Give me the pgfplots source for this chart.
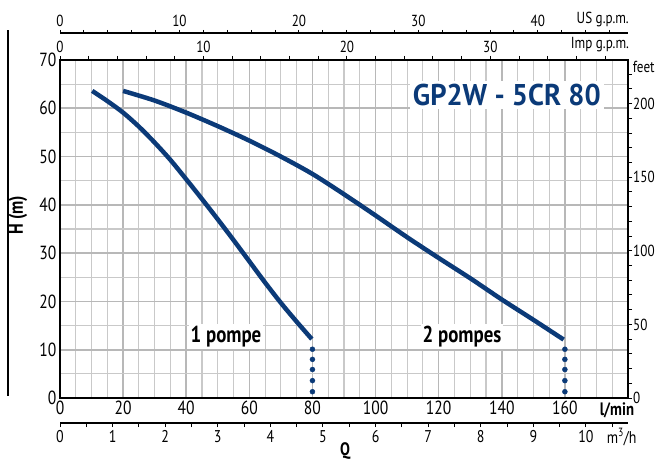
\documentclass[border=0pt]{standalone}
\usepackage{pgfplots}
\pgfplotsset{compat=1.18}
\usepackage{fontspec}
\setmainfont[FakeStretch=0.82]{PT Sans}
\newfontfamily\titlefont[FakeStretch=0.95]{PT Sans}
\definecolor{navy}{HTML}{0B3A78}
\definecolor{gmaj}{HTML}{B8B8B8}
\definecolor{gmin}{HTML}{C9C9C9}
\begin{document}
\begin{tikzpicture}
\useasboundingbox (0pt,0pt) rectangle (656pt,459pt);
\pgfplotsset{every axis/.append style={scale only axis, /pgf/number format/assume math mode=true}}
% main axis
\begin{axis}[at={(60pt,61pt)}, anchor=south west, width=568pt, height=338pt,
  xmin=0, xmax=180, ymin=0, ymax=70,
  xtick={0,20,...,160}, minor xtick={5,10,...,175},
  ytick={0,10,...,70}, minor ytick={5,15,...,65},
  grid=both, major grid style={gmaj,line width=1.6pt}, minor grid style={gmin,line width=1.2pt},
  major tick length=0pt, minor tick length=0pt,
  axis line style={line width=2pt},
  ticklabel style={font=\fontsize{19}{19}\selectfont},
  xticklabel style={yshift=1pt},
  clip=false]
\addplot[navy, line width=4.5pt, smooth] coordinates {
(10.2,63.6)(15,61.5)(20,59.1)(25,56.2)(30,52.9)(35,49.3)(40,45.3)(45,41.2)(50,37.0)(55,32.7)(60,28.3)(65,23.9)(70,19.7)(75,15.8)(79.8,12.2)};
\addplot[navy, line width=4.5pt, smooth] coordinates {
(20,63.6)(30,61.6)(40,59.1)(50,56.3)(60,53.3)(70,50.0)(80,46.4)(90,42.2)(100,37.8)(110,33.3)(120,29.0)(130,24.8)(140,20.4)(150,16.2)(159.6,12.1)};
\addplot[navy, only marks, mark=*, mark size=2.5pt] coordinates {
(80,10.1)(80,8.0)(80,5.9)(80,3.6)(80,1.3)(160,10.1)(160,8.0)(160,5.9)(160,3.6)(160,1.3)};
\node[fill=white, inner sep=2pt, font=\bfseries\fontsize{23}{23}\selectfont] at (axis cs:52.6,12.8) {1 pompe};
\node[fill=white, inner sep=2pt, font=\bfseries\fontsize{23}{23}\selectfont] at (axis cs:127.4,12.8) {2 pompes};
\node[fill=white, inner sep=3pt, text=navy, font=\titlefont\bfseries\fontsize{30}{30}\selectfont] at (axis cs:141.6,62.7) {GP2W - 5CR 80};
\node[anchor=west, font=\fontsize{16}{16}\selectfont, inner sep=0pt] at (axis cs:181.5,68.5) {feet};
\node[font=\bfseries\fontsize{18}{18}\selectfont] at (axis cs:176.5,-2.6) {l/min};
\node[font=\fontsize{17}{17}\selectfont] at (axis cs:178,-8.1) {m\textsuperscript{3}/h};
\node[font=\bfseries\fontsize{18}{18}\selectfont] at (axis cs:90.3,-10.9) {Q};
\node[font=\fontsize{16}{16}\selectfont] at (axis cs:172,78.3) {US g.p.m.};
\node[font=\fontsize{16}{16}\selectfont] at (axis cs:171.1,73.1) {Imp g.p.m.};
\node[rotate=90, font=\bfseries\fontsize{20}{20}\selectfont] at (axis cs:-13.3,37.9) {H (m)};
\draw[line width=1.5pt] (axis cs:-16.5,76.2) -- (axis cs:-16.5,0.4);
\end{axis}
% Imp gpm axis (top of main)
\begin{axis}[at={(60pt,61pt)}, anchor=south west, width=568pt, height=338pt,
  xmin=0, xmax=39.595, ymin=0, ymax=1, hide y axis, axis x line*=top,
  xtick={0,10,20,30}, minor xtick={2,4,...,38},
  tick align=outside, major tick length=4pt, minor tick length=4pt,
  tick style={black, line width=1pt}, axis line style={line width=2pt},
  ticklabel style={font=\fontsize{16}{16}\selectfont}]
\end{axis}
% feet axis
\begin{axis}[at={(60pt,61pt)}, anchor=south west, width=568pt, height=338pt,
  xmin=0, xmax=1, ymin=0, ymax=229.66, hide x axis, axis y line*=right,
  ytick={0,50,...,200}, minor ytick={10,20,...,220},
  tick align=outside, major tick length=4pt, minor tick length=4pt,
  tick style={black, line width=1pt}, axis line style={line width=2pt},
  yticklabel style={font=\fontsize{16}{16}\selectfont, inner xsep=1pt}]
\end{axis}
% US gpm axis
\begin{axis}[at={(60pt,416pt)}, anchor=south west, width=568pt, height=10pt,
  xmin=0, xmax=47.55, ymin=0, ymax=1, hide y axis, axis x line*=top,
  xtick={0,10,...,40}, minor xtick={2,4,...,46},
  tick align=outside, major tick length=3pt, minor tick length=3pt,
  tick style={black, line width=1pt}, axis line style={line width=1.3pt},
  ticklabel style={font=\fontsize{16}{16}\selectfont}]
\end{axis}
% m3/h axis
\begin{axis}[at={(60pt,36pt)}, anchor=south west, width=568pt, height=10pt,
  xmin=0, xmax=10.8, ymin=0, ymax=1, hide y axis, axis x line*=bottom,
  xtick={0,1,...,10}, minor xtick={0.5,1.5,...,10.5},
  tick align=outside, major tick length=4pt, minor tick length=4pt,
  tick style={black, line width=1pt}, axis line style={line width=1.3pt},
  ticklabel style={font=\fontsize{17}{17}\selectfont}]
\end{axis}
\end{tikzpicture}
\end{document}
